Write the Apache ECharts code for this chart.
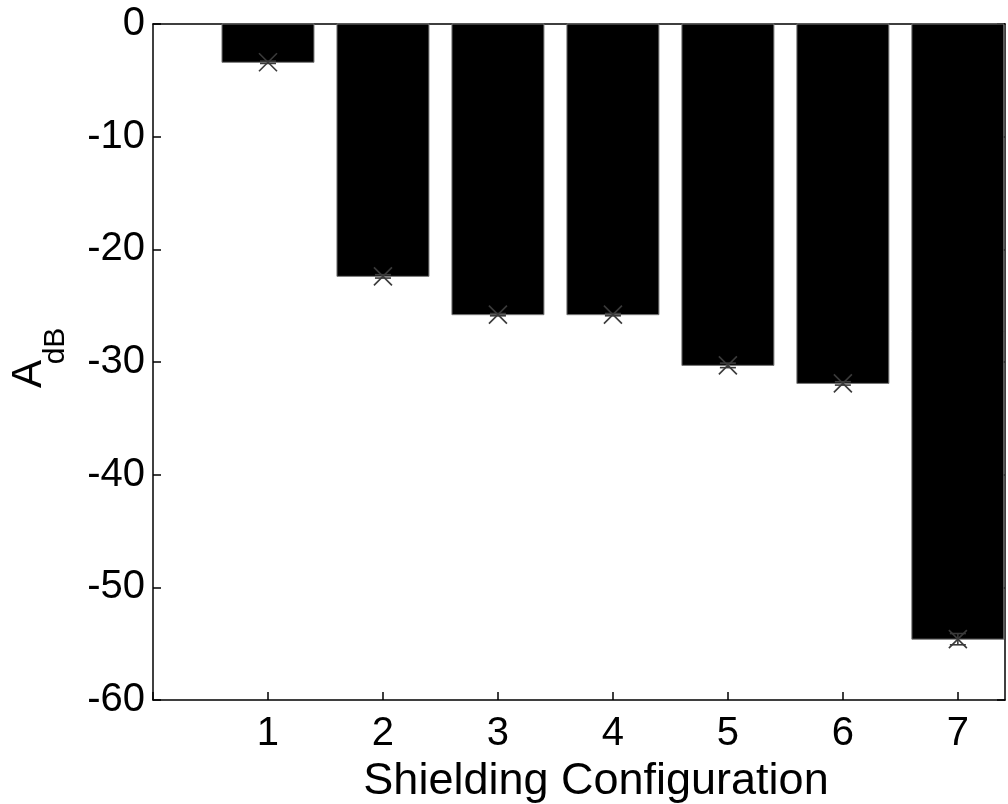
<!DOCTYPE html>
<html>
<head>
<meta charset="utf-8">
<script src="https://cdn.jsdelivr.net/npm/echarts@6/dist/echarts.min.js"></script>
<style>
  html, body { margin: 0; padding: 0; background: #fff; }
  #chart { width: 1008px; height: 804px; }
</style>
</head>
<body>
<div id="chart"></div>
<script>
// shielding configuration index
const configs = [1, 2, 3, 4, 5, 6, 7];
// attenuation in dB
const attenuation = [-3.4, -22.4, -25.8, -25.8, -30.3, -31.9, -54.6];
// error half-width
const errors = [0.1, 0.15, 0.1, 0.1, 0.2, 0.15, 0.5];
const yTicks = [0, -10, -20, -30, -40, -50, -60];

const FONT = 'Liberation Sans, Arial, sans-serif';
const MARK = '#3a3a3a';

const barData = configs.map((c, i) => [c, attenuation[i]]);
const errData = configs.map((c, i) => [c, attenuation[i], errors[i]]);

function renderBar(params, api) {
  const x = api.value(0);
  const y = api.value(1);
  const p0 = api.coord([x - 0.4, 0]);
  const p1 = api.coord([x + 0.4, y]);
  return {
    type: 'rect',
    shape: { x: p0[0], y: p0[1], width: p1[0] - p0[0], height: p1[1] - p0[1] },
    style: { fill: '#000', stroke: '#777', lineWidth: 1 }
  };
}

function renderErr(params, api) {
  const x = api.value(0);
  const y = api.value(1);
  const e = api.value(2);
  const top = api.coord([x, y + e]);
  const bot = api.coord([x, y - e]);
  const c = api.coord([x, y]);
  const cap = 8, m = 9;
  const st = { stroke: MARK, lineWidth: 1.6, fill: null };
  return {
    type: 'group',
    children: [
      { type: 'line', shape: { x1: top[0], y1: top[1], x2: bot[0], y2: bot[1] }, style: st },
      { type: 'line', shape: { x1: top[0] - cap, y1: top[1], x2: top[0] + cap, y2: top[1] }, style: st },
      { type: 'line', shape: { x1: bot[0] - cap, y1: bot[1], x2: bot[0] + cap, y2: bot[1] }, style: st },
      { type: 'line', shape: { x1: c[0] - m, y1: c[1] - m, x2: c[0] + m, y2: c[1] + m }, style: st },
      { type: 'line', shape: { x1: c[0] - m, y1: c[1] + m, x2: c[0] + m, y2: c[1] - m }, style: st }
    ]
  };
}

const chart = echarts.init(document.getElementById('chart'));
const axisLine = { show: true, onZero: false, lineStyle: { color: '#000', width: 1.5 } };
const tick = { show: true, inside: true, length: 8, lineStyle: { color: '#000', width: 1.5 } };
chart.setOption({
  backgroundColor: '#fff',
  animation: false,
  grid: { left: 153, top: 24, right: 3, bottom: 104, outerBoundsMode: 'none', containLabel: false },
  xAxis: [
    {
      type: 'value',
      min: 0,
      max: 7.41,
      interval: 1,
      position: 'bottom',
      axisLine: axisLine,
      axisTick: tick,
      axisLabel: {
        color: '#000',
        fontFamily: FONT,
        fontSize: 40,
        margin: 14,
        showMaxLabel: false,
        formatter: v => (v >= 1 && v <= 7 ? String(v) : '')
      },
      splitLine: { show: false },
      name: 'Shielding Configuration',
      nameLocation: 'middle',
      nameGap: 58,
      nameTextStyle: { color: '#000', fontFamily: FONT, fontSize: 45, padding: [0, 0, 0, 34] }
    },
    {
      type: 'value',
      min: 0,
      max: 7.41,
      interval: 1,
      position: 'top',
      axisLine: axisLine,
      axisTick: { show: false },
      axisLabel: { show: false },
      splitLine: { show: false }
    }
  ],
  yAxis: [
    {
      type: 'value',
      min: -60,
      max: 0,
      interval: 10,
      position: 'left',
      axisLine: axisLine,
      axisTick: tick,
      axisLabel: {
        color: '#000',
        fontFamily: FONT,
        fontSize: 40,
        margin: 8,
        formatter: v => (yTicks.includes(v) ? String(v) : '')
      },
      splitLine: { show: false }
    },
    {
      type: 'value',
      min: -60,
      max: 0,
      interval: 10,
      position: 'right',
      axisLine: axisLine,
      axisTick: tick,
      axisLabel: { show: false },
      splitLine: { show: false }
    }
  ],
  graphic: [
    {
      type: 'text',
      x: 50, y: 374,
      rotation: Math.PI / 2,
      style: { text: 'A', font: '42px ' + FONT, fill: '#000', align: 'center', verticalAlign: 'bottom' }
    },
    {
      type: 'text',
      x: 71, y: 346,
      rotation: Math.PI / 2,
      style: { text: 'dB', font: '30px ' + FONT, fill: '#000', align: 'center', verticalAlign: 'bottom' }
    }
  ],
  series: [
    {
      type: 'custom',
      renderItem: renderBar,
      encode: { x: 0, y: 1 },
      data: barData,
      z: 2
    },
    {
      type: 'custom',
      renderItem: renderErr,
      encode: { x: 0, y: [1] },
      data: errData,
      z: 3
    }
  ]
});
</script>
</body>
</html>
